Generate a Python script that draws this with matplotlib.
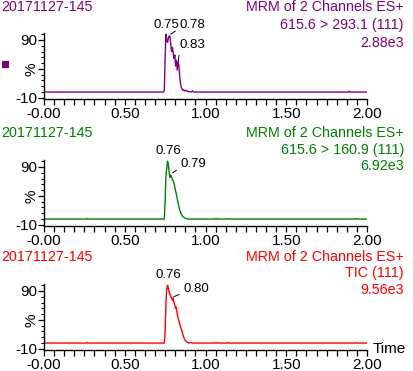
import matplotlib
matplotlib.use("Agg")
import matplotlib.pyplot as plt
from matplotlib.ticker import MultipleLocator
from matplotlib.patches import Rectangle
import matplotlib.transforms as mtrans

plt.rcParams['font.family'] = ['Liberation Sans', 'DejaVu Sans']

# ---- data (retention time [min], relative intensity [%]) ----
sample_name = "20171127-145"
xtick_vals = [0.0, 0.5, 1.0, 1.5, 2.0]
xtick_labels = ["-0.00", "0.50", "1.00", "1.50", "2.00"]

t_purple = [0.00, 0.740, 0.745, 0.750, 0.755, 0.760, 0.765, 0.770, 0.775, 0.780,
            0.785, 0.790, 0.795, 0.800, 0.805, 0.810, 0.815, 0.820, 0.825, 0.830,
            0.835, 0.840, 0.845, 0.850, 0.855, 0.860, 0.865, 0.870, 0.880, 0.890,
            0.900, 0.910, 0.920, 0.925, 1.885, 1.890, 1.895, 2.00]
v_purple = [0, 0, 3, 60, 100, 90, 86, 93, 97, 96,
            82, 70, 77, 68, 58, 64, 45, 55, 38, 52,
            47, 28, 15, 8, 5, 3, 4, 2, 3, 1,
            1, 0, 2, 0, 0, 1.5, 0, 0]

t_green = [0.00, 0.265, 0.270, 0.275, 0.745, 0.750, 0.755, 0.760, 0.765, 0.770,
           0.775, 0.780, 0.785, 0.790, 0.795, 0.800, 0.805, 0.810, 0.815, 0.820,
           0.825, 0.830, 0.835, 0.840, 0.845, 0.850, 0.855, 0.860, 0.870, 0.880,
           0.890, 1.060, 1.065, 1.070, 1.135, 1.140, 1.145, 1.930, 1.935, 1.940, 2.00]
v_green = [0, 0, 1, 0, 0, 30, 75, 88, 100, 95,
           80, 72, 76, 73, 68, 66, 62, 55, 48, 42,
           35, 28, 22, 16, 12, 9, 6, 4, 2, 1,
           0, 0, 1, 0, 0, 1, 0, 0, 1, 0, 0]

t_red = [0.00, 0.265, 0.270, 0.275, 0.745, 0.750, 0.755, 0.760, 0.765, 0.770,
         0.775, 0.780, 0.785, 0.790, 0.795, 0.800, 0.805, 0.810, 0.815, 0.820,
         0.825, 0.830, 0.835, 0.840, 0.845, 0.850, 0.855, 0.860, 0.865, 0.870,
         0.875, 0.880, 0.890, 0.900, 0.910, 0.920, 1.060, 1.065, 1.070, 1.135,
         1.140, 1.145, 1.930, 1.935, 1.940, 2.00]
v_red = [0, 0, 1, 0, 0, 20, 70, 92, 100, 95,
         88, 84, 80, 78, 74, 78, 70, 66, 60, 62,
         50, 44, 38, 34, 28, 24, 20, 15, 10, 7,
         4, 3, 1, 0, 1, 0, 0, 1, 0, 0,
         1, 0, 0, 1, 0, 0]

titles = [["MRM of 2 Channels ES+", "615.6 > 293.1 (111)", "2.88e3"],
          ["MRM of 2 Channels ES+", "615.6 > 160.9 (111)", "6.92e3"],
          ["MRM of 2 Channels ES+", "TIC (111)", "9.56e3"]]

# peak labels: (text, peak t, peak v, text t, text v)
peaks_purple = [("0.75", None, None, 0.758, 116),
                ("0.78", 0.785, 100, 0.838, 116),
                ("0.83", 0.832, 53, 0.840, 81)]
peaks_green = [("0.76", None, None, 0.770, 117),
               ("0.79", 0.797, 80, 0.845, 95)]
peaks_red = [("0.76", None, None, 0.770, 117),
             ("0.80", 0.803, 80, 0.863, 93)]

colors = ["#800080", "#008000", "#ff0000"]

W, H = 413, 371
fig = plt.figure(figsize=(W / 100, H / 100), dpi=100)


def px(x, y):
    return x / W, 1 - y / H


def draw_panel(bottom_px, t, v, color, peaks):
    ax = fig.add_axes([44 / W, 1 - bottom_px / H, 323 / W, 66 / H])
    ax.plot(t, v, color=color, lw=1.0)
    ax.set_xlim(0, 2.0)
    ax.set_ylim(-12, 102)
    for s in ["top", "right"]:
        ax.spines[s].set_visible(False)
    ax.spines["left"].set_linewidth(1.0)
    ax.spines["bottom"].set_linewidth(1.0)
    ax.set_xticks(xtick_vals)
    ax.set_xticklabels(xtick_labels)
    ax.xaxis.set_minor_locator(MultipleLocator(0.0625))
    ax.set_yticks([-10, 40, 90])
    ax.set_yticklabels(["-10", "", "90"])
    ax.yaxis.set_minor_locator(MultipleLocator(10))
    ax.tick_params(axis="x", which="both", direction="out", length=4, width=0.9,
                   labelsize=11, pad=2)
    ax.tick_params(axis="y", which="major", direction="out", length=4, width=0.9,
                   labelsize=11, pad=1)
    ax.tick_params(axis="y", which="minor", direction="out", length=2, width=0.8)
    trans = mtrans.blended_transform_factory(ax.transAxes, ax.transData)
    ax.text(-0.04, 40, "%", transform=trans, rotation=90, ha="center",
            va="center", fontsize=11)
    for lab, pt, pv, tt, tv in peaks:
        if pt is None:
            ax.text(tt, tv, lab, ha="center", va="center", fontsize=9.5,
                    clip_on=False)
        else:
            ax.annotate(lab, xy=(pt, pv), xytext=(tt, tv), textcoords="data",
                        ha="left", va="center", fontsize=9.5,
                        annotation_clip=False,
                        arrowprops=dict(arrowstyle="-", lw=0.7, color="black",
                                        shrinkA=1, shrinkB=0,
                                        relpos=(0.0, 0.2)))
    return ax


draw_panel(99, t_purple, v_purple, colors[0], peaks_purple)
draw_panel(226, t_green, v_green, colors[1], peaks_green)
ax3 = draw_panel(350, t_red, v_red, colors[2], peaks_red)

# header texts
title_y = [[7, 25, 43], [133, 150, 166], [257, 273, 290]]
for i in range(3):
    fig.text(*px(1, title_y[i][0]), sample_name, ha="left", va="center",
             fontsize=10.3, color=colors[i])
    for j in range(3):
        fig.text(*px(404, title_y[i][j]), titles[i][j], ha="right", va="center",
                 fontsize=10.3, color=colors[i])

fig.text(*px(373, 349), "Time", ha="left", va="center", fontsize=11)
fig.patches.append(Rectangle(px(2, 68), 7 / W, 7 / H, transform=fig.transFigure,
                             facecolor=colors[0], edgecolor="none"))

fig.savefig("out.png", dpi=100)
